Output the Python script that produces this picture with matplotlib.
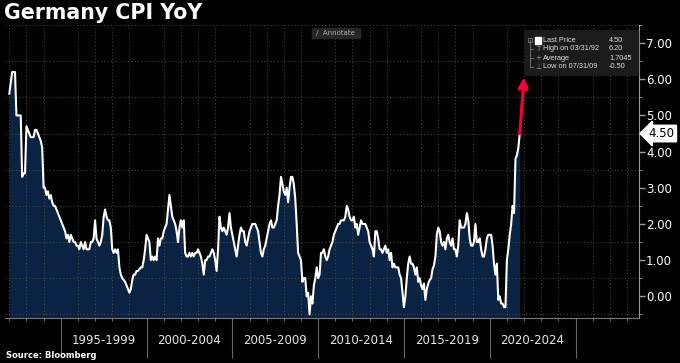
import numpy as np
import matplotlib
matplotlib.use("Agg")
import matplotlib.pyplot as plt
from matplotlib.patches import Rectangle
from matplotlib.lines import Line2D
from matplotlib.transforms import blended_transform_factory

# Germany CPI YoY, monthly, Jan 1992 - Oct 2021
cpi_1992_1994 = [5.6, 5.9, 6.2, 6.2, 6.2, 5.0, 5.0, 5.0, 5.0, 3.3, 3.4, 3.4,
                 4.7, 4.6, 4.5, 4.4, 4.4, 4.4, 4.6, 4.6, 4.5, 4.4, 4.3, 4.1,
                 3.0, 3.0, 2.8, 2.9, 2.7, 2.8, 2.6, 2.5, 2.5, 2.4, 2.3, 2.2]
cpi_1995_1999 = [2.1, 2.0, 1.9, 1.8, 1.6, 1.7, 1.5, 1.7, 1.6, 1.5, 1.5, 1.4,
                 1.4, 1.3, 1.5, 1.4, 1.3, 1.5, 1.3, 1.3, 1.3, 1.5, 1.5, 1.6,
                 2.1, 1.6, 1.5, 1.4, 1.5, 1.7, 2.2, 2.4, 2.2, 2.1, 2.1, 1.9,
                 1.3, 1.2, 1.3, 1.2, 1.3, 0.8, 0.6, 0.5, 0.45, 0.4, 0.3, 0.2,
                 0.1, 0.2, 0.45, 0.6, 0.6, 0.7, 0.7, 0.75, 0.8, 0.8, 1.0, 1.3]
cpi_2000_2004 = [1.7, 1.6, 1.5, 1.0, 1.1, 1.0, 1.1, 1.0, 1.6, 1.4, 1.6, 1.6,
                 1.8, 1.9, 2.0, 2.4, 2.8, 2.5, 2.2, 2.1, 2.0, 1.8, 1.5, 1.9,
                 2.1, 1.9, 2.1, 1.2, 1.1, 1.1, 1.2, 1.1, 1.2, 1.1, 1.2, 1.2,
                 1.3, 1.2, 1.1, 0.9, 0.6, 1.0, 1.0, 1.1, 1.1, 1.2, 1.3, 1.2,
                 1.0, 0.7, 1.3, 2.2, 1.9, 1.8, 1.9, 1.8, 1.7, 1.9, 2.3, 1.9]
cpi_2005_2009 = [1.7, 1.5, 1.3, 1.1, 1.4, 1.7, 1.9, 1.8, 1.8, 1.5, 1.4, 1.6,
                 1.8, 1.9, 2.0, 2.0, 2.0, 1.9, 1.8, 1.5, 1.2, 1.1, 1.3, 1.4,
                 1.6, 1.8, 2.0, 2.1, 1.9, 1.9, 2.0, 2.1, 2.5, 2.8, 3.3, 3.1,
                 2.9, 2.8, 3.0, 2.6, 3.0, 3.3, 3.3, 3.1, 2.7, 2.0, 1.2, 1.1,
                 1.0, 0.4, 0.5, 0.5, 0.0, 0.1, -0.5, 0.0, -0.2, 0.3, 0.5, 0.8]
cpi_2010_2014 = [0.5, 0.6, 1.2, 1.2, 1.3, 1.1, 1.0, 1.1, 1.3, 1.4, 1.5, 1.7,
                 1.8, 1.9, 2.0, 2.0, 2.1, 2.1, 2.1, 2.2, 2.5, 2.4, 2.2, 2.1,
                 2.1, 2.2, 1.9, 2.0, 1.7, 1.9, 2.1, 2.0, 2.0, 2.0, 1.9, 1.8,
                 1.5, 1.4, 1.3, 1.1, 1.8, 1.8, 1.6, 1.3, 1.3, 1.2, 1.3, 1.4,
                 1.2, 1.3, 1.0, 1.2, 0.8, 0.9, 0.8, 0.8, 0.8, 0.6, 0.5, 0.1]
cpi_2015_2019 = [-0.3, 0.0, 0.5, 0.9, 1.1, 0.9, 0.9, 0.8, 0.6, 0.8, 0.4, 0.5,
                 0.3, 0.2, 0.35, -0.1, 0.2, 0.35, 0.45, 0.5, 0.75, 0.85, 1.1, 1.7,
                 1.9, 1.8, 1.5, 1.4, 1.5, 1.3, 1.6, 1.7, 1.5, 1.4, 1.6, 1.3,
                 1.3, 1.1, 1.4, 2.1, 1.9, 1.9, 1.9, 2.0, 2.3, 2.1, 1.6, 1.4,
                 1.4, 1.5, 2.0, 1.5, 1.5, 1.6, 1.3, 1.1, 1.1, 1.3, 1.6, 1.7]
cpi_2020_2021 = [1.7, 1.7, 1.4, 0.9, 0.6, 0.9, -0.1, 0.0, -0.2, -0.2, -0.3, -0.3,
                 1.0, 1.3, 1.7, 2.0, 2.5, 2.3, 3.8, 3.9, 4.1, 4.5]

period_labels = ["1995-1999", "2000-2004", "2005-2009", "2010-2014",
                 "2015-2019", "2020-2024"]
period_starts = [1995, 2000, 2005, 2010, 2015, 2020, 2025]

legend_names = ["Last Price", "High on 03/31/92", "Average", "Low on 07/31/09"]
legend_values = ["4.50", "6.20", "1.7045", "-0.50"]

cpi = np.array(cpi_1992_1994 + cpi_1995_1999 + cpi_2000_2004 + cpi_2005_2009
               + cpi_2010_2014 + cpi_2015_2019 + cpi_2020_2021)
t = 1992 + np.arange(len(cpi)) / 12.0

W, H = 680, 363
fig = plt.figure(figsize=(W / 100, H / 100), dpi=100, facecolor="black")
ax = fig.add_axes([5 / W, 45 / H, 634 / W, 293 / H], facecolor="black")

ymin = -0.6
ax.fill_between(t, cpi, ymin, color="#0a2343", lw=0, zorder=1)
ax.plot(t, cpi, color="white", lw=1.5, zorder=3)

ax.set_xlim(1991.75, 2028.7)
ax.set_ylim(ymin, 7.5)

# grid
ax.set_xticks(np.arange(1992, 2029), minor=True)
ax.set_yticks(np.arange(-0.5, 7.6, 0.5), minor=True)
ax.set_axisbelow("line")
ax.grid(which="minor", color="#505050", linestyle=(0, (1, 2.5)), lw=0.7)

for s in ["left", "top"]:
    ax.spines[s].set_visible(False)
ax.spines["right"].set_color("#9a9a9a")
ax.spines["bottom"].set_color("#777777")

# y axis on the right
ax.yaxis.tick_right()
ax.set_yticks(np.arange(0, 8))
ax.set_yticklabels([f"{v:.2f}" for v in range(8)])
ax.tick_params(axis="y", which="major", direction="out", length=4, width=1,
               color="#9a9a9a", labelcolor="white", labelsize=8.5, pad=1)
ax.tick_params(axis="y", which="minor", direction="out", length=2.5,
               color="#9a9a9a")

# x axis: year ticks and period separators
ax.set_xticks(period_starts)
ax.set_xticklabels([])
ax.tick_params(axis="x", which="major", direction="out", length=29, width=0.8,
               color="#666666")
ax.tick_params(axis="x", which="minor", direction="out", length=2.5,
               color="#777777")
trans = blended_transform_factory(ax.transData, fig.transFigure)
for start, lab in zip(period_starts, period_labels):
    ax.text(start + 2.5, 1 - 341 / H, lab, transform=trans, ha="center",
            va="center", color="#e6e6e6", fontsize=8.5)

# titles
fig.text(4 / W, 1 - 19 / H, "Germany CPI YoY", color="white", fontsize=14.8,
         fontweight="bold", va="baseline")
fig.text(6 / W, 1 - 358 / H, "Source: Bloomberg", color="white", fontsize=6,
         fontweight="bold", va="baseline")

# annotate button
fig.patches.append(Rectangle((312 / W, 1 - 38 / H), 48 / W, 10 / H,
                             transform=fig.transFigure, color="#262626"))
fig.text(316 / W, 1 - 33 / H, "/  Annotate", color="#b0b0b0", fontsize=5,
         va="center")

# legend box
fig.patches.append(Rectangle((525 / W, 1 - 75 / H), 113 / W, 45 / H,
                             transform=fig.transFigure, color="#1b1b1b"))
icons = ["", "T", "+", "\u22a5"]
for i, (name, val, ic) in enumerate(zip(legend_names, legend_values, icons)):
    yy = 1 - (40 + 9 * i) / H
    fig.text(543 / W, yy, name, color="#dddddd", fontsize=5.3, va="center",
             family="Liberation Sans")
    fig.text(609 / W, yy, val, color="#dddddd", fontsize=5.3, va="center",
             family="Liberation Sans")
    if ic:
        fig.text(538.5 / W, yy, ic, color="#999999", fontsize=5, va="center",
                 ha="center")
    if i > 0:
        fig.lines.append(Line2D([530 / W, 533 / W], [yy, yy], color="#777777",
                                lw=0.6, transform=fig.transFigure))
fig.lines.append(Line2D([530 / W, 530 / W], [1 - 40 / H, 1 - 67 / H],
                        color="#777777", lw=0.6, transform=fig.transFigure))
fig.patches.append(Rectangle((528 / W, 1 - 42 / H), 4 / W, 4 / H,
                             transform=fig.transFigure, fill=False,
                             ec="#777777", lw=0.6))
fig.patches.append(Rectangle((535 / W, 1 - 44 / H), 6 / W, 7 / H,
                             transform=fig.transFigure, color="white"))

# last price tag
ax.annotate(f"{cpi[-1]:.2f}", xy=(1, cpi[-1]),
            xycoords=("axes fraction", "data"), xytext=(7, 0),
            textcoords="offset points", ha="left", va="center",
            fontsize=8.5, color="black",
            bbox=dict(boxstyle="larrow,pad=0.15", fc="white", ec="white"),
            annotation_clip=False)

# red arrow
ax.annotate("", xy=(2022.0, 6.05), xytext=(t[-1], cpi[-1]),
            arrowprops=dict(arrowstyle="-|>,head_width=0.3,head_length=0.6",
                            color="#f5003d", lw=2.2, shrinkA=0, shrinkB=0),
            zorder=5)

fig.savefig("out.png", dpi=100, facecolor="black")
